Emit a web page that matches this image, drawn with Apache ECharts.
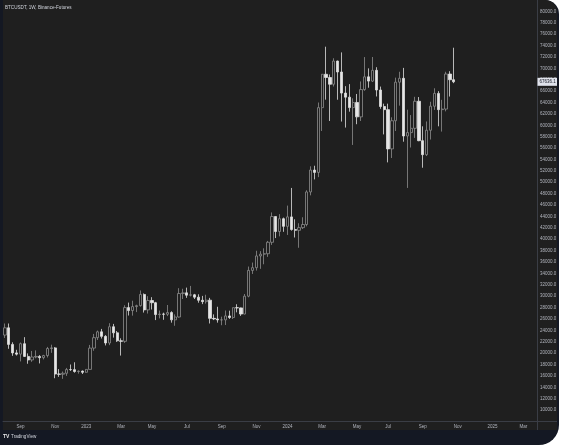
<!DOCTYPE html>
<html><head><meta charset="utf-8">
<script src="https://cdn.jsdelivr.net/npm/echarts@6/dist/echarts.min.js"></script>
<style>html,body{margin:0;padding:0;background:#ffffff;}#c{width:568px;height:445px;}</style>
</head><body><div id="c"></div>
<script>
// ---- data (BTCUSDT weekly, from week of 2022-08-08) ----
const firstWeek = '2022-08-08';
const weekCount = 138; // visible weekly slots incl. empty future space
const title = 'BTCUSDT, 1W, Binance-Futures';
const lastPrice = 67636.1;
const monthNames = ['Jan','Feb','Mar','Apr','May','Jun','Jul','Aug','Sep','Oct','Nov','Dec'];
const open = [23170,24440,21530,20040,19820,21650,19420,18800,19310,19420,19200,19570,20810,20920,16330,16290,16460,17110,17100,16770,16840,
 16630,17140,20880,22710,23740,22940,21780,24630,23560,22160,22070,27990,27470,28170,28330,30300,27590,29230,28850,26770,26850,26820,27120,25840,26340,30460,30580,30170,30240,29820,29280,29040,29300,26100,26000,25830,25840,26530,26250,27980,27940,26860,29990,34520,35000,37060,37370,37450,39460,43980,41350,43600,
 42260,43920,41700,41560,42030,42580,48300,52140,51730,63100,68960,68390,67210,71280,69360,65660,64940,63110,64010,61480,66270,68510,67760,69650,66200,63300,62750,55860,60800,67570,68250,58120,58720,59470,64220,57300,54840,59130,63350,65600,62750,62850,69000,68000];
const high = [25200,25200,21900,20580,21860,22800,19950,20380,20480,19650,19700,21090,21480,21060,17190,16770,17400,18000,18390,16960,16950,
 17180,21440,23370,23960,24250,23160,25250,25130,23880,22600,28400,28870,29200,28500,31000,30480,30000,29820,29000,27470,27100,28450,27350,26800,31400,31300,31500,31800,30400,30330,30050,30250,29700,26800,28140,26400,27480,27450,28000,28580,28000,30380,35200,35900,37970,37900,38400,39700,44700,44000,44400,43800,
 45900,49000,43500,42800,43850,48600,52800,52900,64000,69000,73800,68920,71770,71350,72800,66870,67230,64740,65500,67700,71980,70000,71990,70200,66800,63800,63800,61400,68370,69400,70080,62740,61800,65000,64960,59820,60670,64130,66500,66000,64470,69400,69500,73620];
const low = [22660,20760,19520,19580,18540,19330,18130,18470,19090,18190,18900,19240,20050,15590,15830,15480,16000,16870,16560,16400,16330,
 16550,17120,20410,22300,22560,21350,21400,22720,21970,19570,21800,26600,26580,27200,28170,27120,26950,27660,25800,26100,25850,26500,25350,24800,26250,29500,29700,29950,29500,28850,28600,28700,25200,25800,25350,24900,24930,26000,25990,27160,26530,26800,29800,33900,34500,34800,35600,36900,39000,40200,40500,41300,
 40750,41500,40300,38500,41800,42260,47700,50500,50900,59000,64500,60760,66810,64490,60660,59600,62390,56550,60190,60750,66060,66600,67610,65060,62900,58400,53490,54260,59000,63450,57120,49000,56100,57790,57200,52550,54600,57500,62700,59820,58900,62450,65050,67400];
const close = [24440,21530,20040,19820,21650,19420,18800,19310,19420,19200,19570,20810,20920,16330,16290,16460,17110,17100,16770,16840,16630,
 17140,20880,22710,23740,22940,21780,24630,23560,22160,22070,27990,27470,28170,28330,30300,27590,29230,28850,26770,26850,26820,27120,25840,26340,30460,30580,30170,30240,29820,29280,29040,29300,26100,26000,25830,25840,26530,26250,27980,27940,26860,29990,34520,35000,37060,37370,37450,39460,43980,41350,43600,42260,
 43920,41700,41560,42030,42580,48300,52140,51730,63100,68960,68390,67210,71280,69360,65660,64940,63110,64010,61480,66270,68510,67760,69650,66200,63300,62750,55860,60800,67570,68250,58120,58720,59470,64220,57300,54840,59130,63350,65600,62750,62850,69000,68000,67636.1];

// ---- build ----
const weeks = [];
{
  const t0 = Date.parse(firstWeek + 'T00:00:00Z');
  for (let i = 0; i < weekCount; i++) weeks.push(new Date(t0 + i * 7 * 86400000).toISOString().slice(0, 10));
}
const candles = open.map((o, i) => [o, close[i], low[i], high[i]]);

const FONT = 'Liberation Sans, Arial, sans-serif';
const PANEL = '#1f1f1f', FRAME = '#141823', TXT = '#b2b5be', LINE = '#3a3d45';
const chart = echarts.init(document.getElementById('c'));
const baseGraphic = [
  { id: 'frame', type: 'rect', z: -10, shape: { x: 0, y: 0, width: 559, height: 445, r: [0, 14, 20, 0] }, style: { fill: FRAME } },
  { id: 'panel', type: 'rect', z: -9, shape: { x: 3, y: 0, width: 554, height: 430, r: [0, 12, 0, 0] }, style: { fill: PANEL } },
  { id: 'vsep', type: 'line', z: 5, shape: { x1: 537.5, y1: 421, x2: 537.5, y2: 430 }, style: { stroke: LINE, lineWidth: 1 } },
  { id: 'hsep', type: 'line', z: 5, shape: { x1: 537, y1: 421.5, x2: 557, y2: 421.5 }, style: { stroke: LINE, lineWidth: 1 } },
  { id: 'title', type: 'text', z: 6, left: 5, top: 5, style: { text: title, fill: '#d1d4dc', fontSize: 4.6, fontFamily: FONT } },
  { id: 'logo', type: 'text', z: 6, left: 3, top: 434, style: { text: 'TV', fill: '#e8e8e8', fontSize: 5, fontWeight: 'bold', fontFamily: FONT } },
  { id: 'brand', type: 'text', z: 6, left: 11, top: 434.5, style: { text: 'TradingView', fill: '#d1d4dc', fontSize: 4.6, fontFamily: FONT } }
];
chart.setOption({
  animation: false,
  backgroundColor: 'transparent',
  textStyle: { fontFamily: FONT },
  graphic: baseGraphic,
  grid: { left: 3, right: 31, top: -1.94, height: 423.4, containLabel: false },
  xAxis: {
    type: 'category', data: weeks, boundaryGap: true,
    axisLine: { show: true, lineStyle: { color: LINE, width: 1 } },
    axisTick: { show: false },
    splitLine: { show: false },
    axisLabel: {
      color: TXT, fontSize: 4.5, margin: 2.5, hideOverlap: false,
      interval: function (idx, val) {
        const d = new Date(val + 'T00:00:00Z');
        return d.getUTCDate() <= 7 && d.getUTCMonth() % 2 === 0;
      },
      formatter: function (val) {
        const d = new Date(val + 'T00:00:00Z');
        return d.getUTCMonth() === 0 ? String(d.getUTCFullYear()) : monthNames[d.getUTCMonth()];
      }
    }
  },
  yAxis: {
    type: 'value', position: 'right', min: 8000, max: 82000, interval: 2000,
    axisLine: { show: true, lineStyle: { color: LINE, width: 1 } },
    axisTick: { show: false },
    splitLine: { show: false },
    axisLabel: { color: TXT, fontSize: 4.5, margin: 3, showMinLabel: false, showMaxLabel: false,
      formatter: v => v.toFixed(1) }
  },
  series: [{
    type: 'candlestick',
    data: candles,
    barWidth: 2.8,
    itemStyle: { color: PANEL, color0: '#e6e6e6', borderColor: '#8d8d8d', borderColor0: '#e0e0e0', borderWidth: 0.8 }
  }]
});
// current-price tag on the price scale, placed via the y axis scale
const py = chart.convertToPixel({ yAxisIndex: 0 }, lastPrice);
chart.setOption({
  graphic: [
    { id: 'pricebox', type: 'rect', z: 7, shape: { x: 537.5, y: py - 4, width: 19.5, height: 8 }, style: { fill: '#e0e3eb' } },
    { id: 'pricetxt', type: 'text', z: 8, x: 539.5, y: py, style: { text: lastPrice.toFixed(1), fill: '#131722', fontSize: 4.5, fontFamily: FONT, textVerticalAlign: 'middle', verticalAlign: 'middle' } }
  ]
});
</script></body></html>
